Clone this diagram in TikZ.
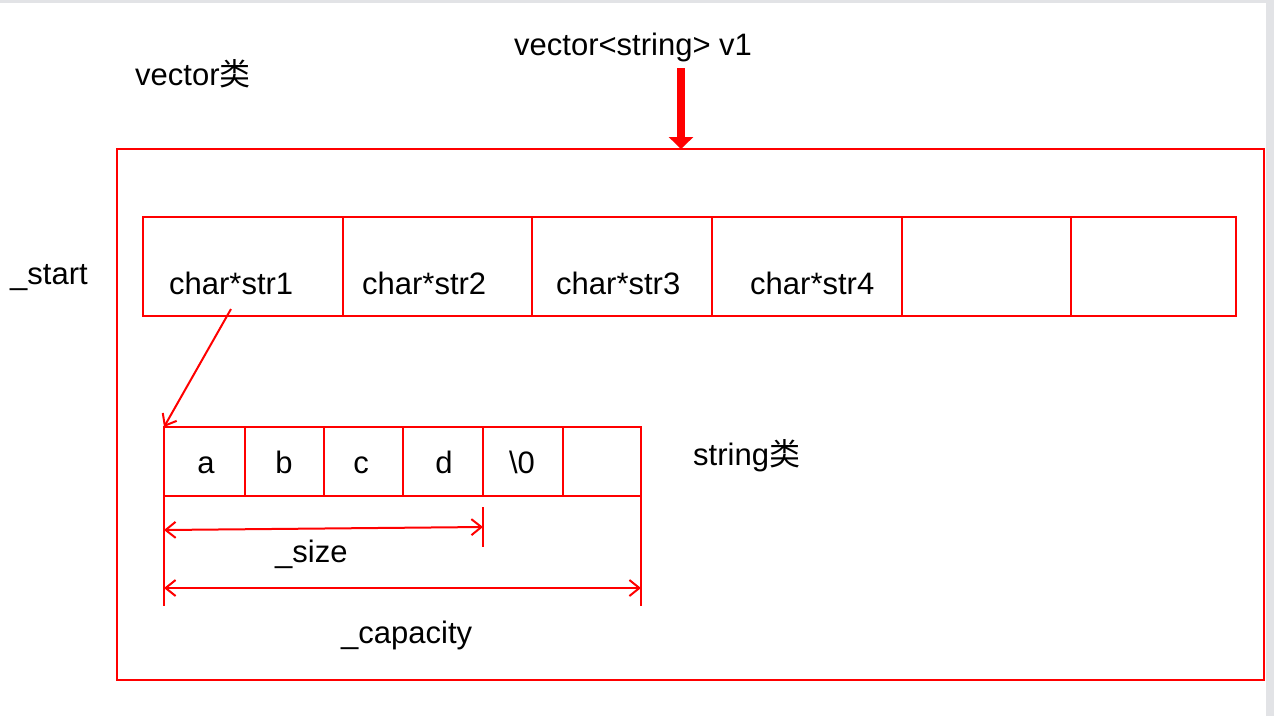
\documentclass[tikz,border=0pt]{standalone}
\usepackage{fontspec}
\setmainfont{Liberation Sans}
\newfontfamily\cjk{Noto Sans CJK SC}
\usetikzlibrary{arrows.meta}
\definecolor{pure}{RGB}{255,0,0}
\definecolor{edgegray}{RGB}{226,227,230}
\begin{document}
\begin{tikzpicture}[x=1pt,y=-1pt,
  redline/.style={draw=pure,line width=2pt},
  cellbox/.style={redline,inner sep=0pt,outer sep=0pt,anchor=north west,minimum height=#1},
  lbl/.style={anchor=base west,inner sep=0pt,font=\fontsize{31}{35}\selectfont},
  clbl/.style={anchor=base,inner sep=0pt,font=\fontsize{31}{35}\selectfont},
  dimarrow/.style={draw=pure,line width=2pt,{Straight Barb[length=10pt,width=16pt]}-{Straight Barb[length=10pt,width=16pt]}},
  ptrarrow/.style={draw=pure,line width=2pt,-{Straight Barb[length=10pt,width=16pt]}},
  bigarrow/.style={draw=pure,line width=8pt,-{Triangle[length=12pt,width=24pt]}}
]
\useasboundingbox (0,0) rectangle (1274,716);
\fill[white] (0,0) rectangle (1274,716);
\fill[edgegray] (0,0) rectangle (1274,3);
\fill[edgegray] (1266,0) rectangle (1274,716);

% titles
\node[lbl] (vtitle) at (514,55) {vector<string> v1};
\node[lbl] (vclass) at (135,85) {vector{\cjk 类}};
\node[lbl] (start) at (10,284) {\_start};

% outer vector box
\node[cellbox=531pt,minimum width=1147pt] (outer) at (117,149) {};

% big arrow
\coordinate (ptop) at (681,68);
\draw[bigarrow] (ptop) -- (ptop |- outer.north);

% top row cells
\node[cellbox=99pt,minimum width=200pt] (p1) at (143,217) {};
\node[cellbox=99pt,minimum width=189pt] (p2) at (343,217) {};
\node[cellbox=99pt,minimum width=180pt] (p3) at (532,217) {};
\node[cellbox=99pt,minimum width=190pt] (p4) at (712,217) {};
\node[cellbox=99pt,minimum width=169pt] (p5) at (902,217) {};
\node[cellbox=99pt,minimum width=165pt] (p6) at (1071,217) {};
\node[lbl] (t1) at (169,294) {char*str1};
\node[lbl] (t2) at (362,294) {char*str2};
\node[lbl] (t3) at (556,294) {char*str3};
\node[lbl] (t4) at (750,294) {char*str4};

% string cells
\node[cellbox=69pt,minimum width=81pt] (s1) at (164,427) {};
\node[cellbox=69pt,minimum width=79pt] (s2) at (245,427) {};
\node[cellbox=69pt,minimum width=79pt] (s3) at (324,427) {};
\node[cellbox=69pt,minimum width=80pt] (s4) at (403,427) {};
\node[cellbox=69pt,minimum width=80pt] (s5) at (483,427) {};
\node[cellbox=69pt,minimum width=78pt] (s6) at (563,427) {};
\node[clbl] (la) at (206,473) {a};
\node[clbl] (lb) at (284,473) {b};
\node[clbl] (lc) at (361,473) {c};
\node[clbl] (ld) at (444,473) {d};
\node[clbl] (le) at (522,473) {\textbackslash 0};
\node[lbl] (sclass) at (693,465) {string{\cjk 类}};

% pointer arrow
\coordinate (pstart) at (231,309);
\draw[ptrarrow] (pstart) -- (s1.north west);

% dimension lines
\coordinate (lbot) at (164,606);
\coordinate (rbot) at (641,606);
\coordinate (mtop) at (483,507);
\coordinate (mbot) at (483,547);
\draw[redline] (s1.south west) -- (lbot);
\draw[redline] (s6.south east) -- (rbot);
\draw[redline] (mtop) -- (mbot);
\coordinate (sizel) at (164,530);
\coordinate (sizer) at (483,527);
\draw[dimarrow] (sizel) -- (sizer);
\coordinate (capl) at (164,588);
\coordinate (capr) at (641,588);
\draw[dimarrow] (capl) -- (capr);
\node[lbl] (size) at (275,562) {\_size};
\node[lbl] (cap) at (341,643) {\_capacity};
\end{tikzpicture}
\end{document}
